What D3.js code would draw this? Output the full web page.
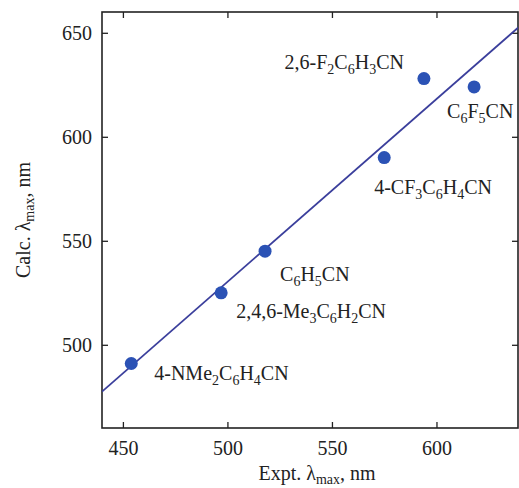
<!DOCTYPE html>
<html>
<head>
<meta charset="utf-8">
<script src="https://cdn.jsdelivr.net/npm/d3@7"></script>
<style>
  body { margin: 0; background: #fff; }
  text { font-family: "Liberation Serif", "Times New Roman", serif; fill: #222; }
</style>
</head>
<body>
<div id="chart"></div>
<script>
// 数据
const compounds = ['4-NMe2C6H4CN', '2,4,6-Me3C6H2CN', 'C6H5CN', '4-CF3C6H4CN', '2,6-F2C6H3CN', 'C6F5CN'];
const exptVals = [454, 497, 518, 575, 594, 618];
const calcVals = [491, 525, 545, 590, 628, 624];
// 标签（分段：[文字, 是否下标]）
const labelParts = [
    [['4-NMe', 0], ['2', 1], ['C', 0], ['6', 1], ['H', 0], ['4', 1], ['CN', 0]],
    [['2,4,6-Me', 0], ['3', 1], ['C', 0], ['6', 1], ['H', 0], ['2', 1], ['CN', 0]],
    [['C', 0], ['6', 1], ['H', 0], ['5', 1], ['CN', 0]],
    [['4-CF', 0], ['3', 1], ['C', 0], ['6', 1], ['H', 0], ['4', 1], ['CN', 0]],
    [['2,6-F', 0], ['2', 1], ['C', 0], ['6', 1], ['H', 0], ['3', 1], ['CN', 0]],
    [['C', 0], ['6', 1], ['F', 0], ['5', 1], ['CN', 0]]
];
// 拟合线两端
const fitX = [440, 640];
const fitY = [477.5, 653.3];
const xTicks = [450, 500, 550, 600];
const yTicks = [500, 550, 600, 650];

const W = 519, H = 488;
const m = {l: 102, r: 1, t: 12, b: 60};
const gW = W - m.l - m.r, gH = H - m.t - m.b;
const FS = 20, SUB = 14;

const svg = d3.select('#chart').append('svg').attr('width', W).attr('height', H);
const g = svg.append('g').attr('transform', 'translate(' + m.l + ',' + m.t + ')');

const x = d3.scaleLinear().domain([440, 639]).range([0, gW]);
const y = d3.scaleLinear().domain([460, 660]).range([gH, 0]);

// 坐标轴
const tickLen = 6;
g.append('g').attr('transform', 'translate(0,' + gH + ')')
    .call(d3.axisBottom(x).tickValues(xTicks).tickSize(-tickLen).tickPadding(13).tickFormat(d3.format('d')));
g.append('g')
    .call(d3.axisTop(x).tickValues(xTicks).tickSize(-tickLen).tickFormat(''));
g.append('g')
    .call(d3.axisLeft(y).tickValues(yTicks).tickSize(-tickLen).tickPadding(10).tickFormat(d3.format('d')));
g.append('g').attr('transform', 'translate(' + gW + ',0)')
    .call(d3.axisRight(y).tickValues(yTicks).tickSize(-tickLen).tickFormat(''));
g.selectAll('.domain').remove();
g.selectAll('.tick line').attr('stroke', '#222').attr('stroke-width', 1.3);
g.selectAll('.tick text').attr('font-size', FS).attr('font-family', '"Liberation Serif", serif').attr('fill', '#222');

// 边框
g.append('rect').attr('width', gW).attr('height', gH)
    .attr('fill', 'none').attr('stroke', '#222').attr('stroke-width', 1.6);

// 拟合线
g.append('clipPath').attr('id', 'clip').append('rect').attr('width', gW).attr('height', gH);
g.append('line')
    .attr('clip-path', 'url(#clip)')
    .attr('x1', x(fitX[0])).attr('y1', y(fitY[0]))
    .attr('x2', x(fitX[1])).attr('y2', y(fitY[1]))
    .attr('stroke', '#3b3f9c').attr('stroke-width', 1.8);

// 点
g.selectAll('circle').data(exptVals).enter().append('circle')
    .attr('cx', function (d) { return x(d); })
    .attr('cy', function (d, i) { return y(calcVals[i]); })
    .attr('r', 6.5)
    .attr('fill', '#2b52b5');

// 点标签 [dx, dy, anchor]
const labelOff = [[23, 16, 'start'], [15, 25, 'start'], [15, 30, 'start'], [-10, 36, 'start'], [-20, -10, 'end'], [-27, 31, 'start']];
compounds.forEach(function (c, i) {
    const t = g.append('text')
        .attr('x', x(exptVals[i]) + labelOff[i][0])
        .attr('y', y(calcVals[i]) + labelOff[i][1])
        .attr('text-anchor', labelOff[i][2])
        .attr('font-size', FS);
    let sub = false;
    labelParts[i].forEach(function (p) {
        const ts = t.append('tspan').text(p[0]);
        if (p[1] && !sub) { ts.attr('dy', 5).attr('font-size', SUB); sub = true; }
        else if (!p[1] && sub) { ts.attr('dy', -5); sub = false; }
        else if (p[1]) { ts.attr('font-size', SUB); }
    });
});

// 轴标题
function lambdaTitle(sel, pre) {
    sel.append('tspan').text(pre + 'λ');
    sel.append('tspan').text('max').attr('font-size', SUB).attr('dy', 4);
    sel.append('tspan').text(', nm').attr('dy', -4);
}
const xt = svg.append('text').attr('x', 317).attr('y', 480).attr('text-anchor', 'middle').attr('font-size', FS);
lambdaTitle(xt, 'Expt. ');
const yt = svg.append('text').attr('transform', 'translate(30,220) rotate(-90)').attr('text-anchor', 'middle').attr('font-size', FS);
lambdaTitle(yt, 'Calc. ');
</script>
</body>
</html>
